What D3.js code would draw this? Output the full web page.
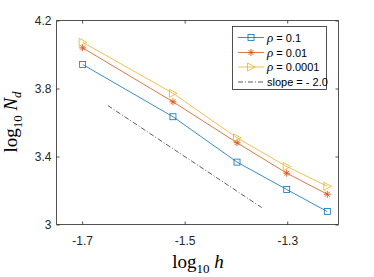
<!DOCTYPE html>
<html><head><meta charset="utf-8">
<script src="https://cdn.jsdelivr.net/npm/d3@7/dist/d3.min.js"></script>
<style>body{margin:0;background:#fff}svg{display:block}</style>
</head><body>
<svg id="c" width="374" height="277"></svg>
<script>
const hValues = [0.02, 0.03, 0.04, 0.05, 0.06];
const xLog = hValues.map(h => Math.log10(h));
const rho01 = [3.941, 3.634, 3.367, 3.206, 3.076];
const rho001 = [4.039, 3.722, 3.481, 3.302, 3.178];
const rho00001 = [4.072, 3.772, 3.510, 3.341, 3.225];
const slopeX = [-1.65, -1.35];
const slopeY = [3.7, 3.1];
const xTicks = [-1.7, -1.5, -1.3];
const yTicks = [3, 3.4, 3.8, 4.2];
const legendLabels = ["0.1", "0.01", "0.0001"];

const svg = d3.select("#c");
const L = 56.5, R = 338.5, T = 20.5, B = 224.5;
const x = d3.scaleLinear().domain([-1.75, -1.2]).range([L, R]);
const y = d3.scaleLinear().domain([3, 4.2]).range([B, T]);
const axisColor = "#262626";
const font = "'Liberation Sans', Arial, sans-serif";
const fmt = d => (d === 3 ? "3" : d.toFixed(1));

// axes
const gx = svg.append("g").attr("transform", `translate(0,${B})`)
  .call(d3.axisBottom(x).tickValues(xTicks).tickSize(-3).tickPadding(12).tickFormat(fmt));
const gxt = svg.append("g").attr("transform", `translate(0,${T})`)
  .call(d3.axisTop(x).tickValues(xTicks).tickSize(-3).tickFormat(""));
const gy = svg.append("g").attr("transform", `translate(${L},0)`)
  .call(d3.axisLeft(y).tickValues(yTicks).tickSize(-3).tickPadding(5).tickFormat(fmt));
const gyr = svg.append("g").attr("transform", `translate(${R},0)`)
  .call(d3.axisRight(y).tickValues(yTicks).tickSize(-3).tickFormat(""));
[gx, gxt, gy, gyr].forEach(g => {
  g.select(".domain").attr("stroke", axisColor).attr("stroke-width", 0.8);
  g.selectAll(".tick line").attr("stroke", axisColor).attr("stroke-width", 0.8);
  g.selectAll("text").attr("fill", axisColor).style("font-family", font).style("font-size", "12px");
});
gx.selectAll(".domain").attr("d", `M${L},0H${R}`);
gxt.selectAll(".domain").attr("d", `M${L},0H${R}`);
gy.selectAll(".domain").attr("d", `M0,${T}V${B}`);
gyr.selectAll(".domain").attr("d", `M0,${T}V${B}`);

// slope line
svg.append("line")
  .attr("x1", x(slopeX[0])).attr("y1", y(slopeY[0]))
  .attr("x2", x(slopeX[1])).attr("y2", y(slopeY[1]))
  .attr("stroke", "#333").attr("stroke-width", 0.8).attr("stroke-dasharray", "5,2,1,2");

const series = [
  {vals: rho01, color: "#0072BD", marker: "square"},
  {vals: rho001, color: "#D95319", marker: "star"},
  {vals: rho00001, color: "#EDB120", marker: "triangle"}
];
function drawMarker(g, type, cx, cy, color) {
  if (type === "square") {
    g.append("rect").attr("x", cx - 3).attr("y", cy - 3).attr("width", 6).attr("height", 6)
      .attr("fill", "none").attr("stroke", color).attr("stroke-width", 0.8);
  } else if (type === "star") {
    const r = 3.5;
    let d = "";
    for (let i = 0; i < 4; i++) {
      const a = i * Math.PI / 4;
      d += `M${cx - r * Math.cos(a)},${cy - r * Math.sin(a)}L${cx + r * Math.cos(a)},${cy + r * Math.sin(a)}`;
    }
    g.append("path").attr("d", d).attr("stroke", color).attr("stroke-width", 0.9).attr("fill", "none");
  } else {
    g.append("path").attr("d", `M${cx - 3.5},${cy - 4}L${cx + 4},${cy}L${cx - 3.5},${cy + 4}Z`)
      .attr("fill", "none").attr("stroke", color).attr("stroke-width", 0.8);
  }
}
const line = d3.line().x((d, i) => x(xLog[i])).y(d => y(d));
series.forEach(s => {
  svg.append("path").attr("d", line(s.vals)).attr("fill", "none")
    .attr("stroke", s.color).attr("stroke-width", 0.8);
  const g = svg.append("g");
  s.vals.forEach((v, i) => drawMarker(g, s.marker, x(xLog[i]), y(v), s.color));
});

// legend
const lg = svg.append("g");
lg.append("rect").attr("x", 232.5).attr("y", 26.5).attr("width", 94).attr("height", 63)
  .attr("fill", "#fff").attr("stroke", axisColor).attr("stroke-width", 0.8);
const rowsY = [37.5, 52.5, 67, 82];
series.forEach((s, i) => {
  lg.append("line").attr("x1", 238).attr("x2", 264).attr("y1", rowsY[i]).attr("y2", rowsY[i])
    .attr("stroke", s.color).attr("stroke-width", 0.8);
  drawMarker(lg, s.marker, 251, rowsY[i], s.color);
  const t = lg.append("text").attr("x", 267).attr("y", rowsY[i] + 4)
    .style("font-size", "11px").attr("fill", "#000");
  t.append("tspan").text("ρ").style("font-family", "'Liberation Serif', serif").style("font-style", "italic").style("font-size", "13px");
  t.append("tspan").text(" = " + legendLabels[i]).style("font-family", font);
});
lg.append("line").attr("x1", 238).attr("x2", 264).attr("y1", rowsY[3]).attr("y2", rowsY[3])
  .attr("stroke", "#333").attr("stroke-width", 0.8).attr("stroke-dasharray", "5,2,1,2");
lg.append("text").attr("x", 267).attr("y", rowsY[3] + 4).style("font-size", "11px")
  .style("font-family", font).attr("fill", "#000").text("slope = - 2.0");

// axis labels
const serif = "'Liberation Serif', 'DejaVu Serif', serif";
const xl = svg.append("text").attr("x", 198).attr("y", 268).attr("text-anchor", "middle")
  .style("font-family", serif).style("font-size", "19px").attr("fill", "#000");
xl.append("tspan").text("log");
xl.append("tspan").text("10").attr("dy", 5).style("font-size", "13px");
xl.append("tspan").text(" h").attr("dy", -5).style("font-style", "italic");

const yl = svg.append("text").attr("transform", "translate(17,122) rotate(-90)").attr("text-anchor", "middle")
  .style("font-family", serif).style("font-size", "19px").attr("fill", "#000");
yl.append("tspan").text("log");
yl.append("tspan").text("10").attr("dy", 5).style("font-size", "13px");
yl.append("tspan").text(" N").attr("dy", -5).style("font-style", "italic");
yl.append("tspan").text("d").attr("dy", 4).style("font-style", "italic").style("font-size", "13px");
</script>
</body></html>
